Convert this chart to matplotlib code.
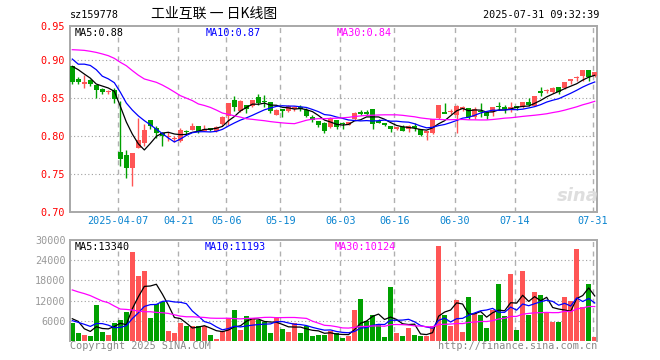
import numpy as np
import pandas as pd
import matplotlib
matplotlib.use("Agg")
import matplotlib.pyplot as plt

# ---------------------------------------------------------------------------
# daily candles, 2025-03-25 .. 2025-07-31 (88 trading days)
opens = [0.8917, 0.8750, 0.8680, 0.8732, 0.8670, 0.8614, 0.8580, 0.8605, 0.7794, 0.7750,
         0.7575, 0.7847, 0.7903, 0.8215, 0.8110, 0.8040, 0.7990, 0.7960, 0.7939, 0.8060,
         0.8083, 0.8136, 0.8070, 0.8092, 0.8060, 0.8158, 0.8268, 0.8474, 0.8325, 0.8408,
         0.8395, 0.8518, 0.8456, 0.8447, 0.8280, 0.8342, 0.8325, 0.8365, 0.8370, 0.8342,
         0.8254, 0.8202, 0.8175, 0.8114, 0.8211, 0.8167, 0.8150, 0.8220, 0.8309, 0.8309,
         0.8360, 0.8185, 0.8158, 0.8132, 0.8088, 0.8123, 0.8088, 0.8136, 0.8088, 0.8035,
         0.8035, 0.8237, 0.8305, 0.8310, 0.8272, 0.8355, 0.8368, 0.8246, 0.8322, 0.8311,
         0.8311, 0.8390, 0.8386, 0.8355, 0.8380, 0.8377, 0.8443, 0.8400, 0.8584, 0.8588,
         0.8575, 0.8640, 0.8627, 0.8724, 0.8770, 0.8794, 0.8873, 0.8785]
highs = [0.8920, 0.8770, 0.8800, 0.8750, 0.8670, 0.8627, 0.8610, 0.8636, 0.8465, 0.7820,
         0.7780, 0.8240, 0.8162, 0.8215, 0.8136, 0.8050, 0.8050, 0.8000, 0.8110, 0.8083,
         0.8166, 0.8136, 0.8146, 0.8110, 0.8136, 0.8260, 0.8439, 0.8530, 0.8474, 0.8410,
         0.8474, 0.8553, 0.8544, 0.8447, 0.8355, 0.8342, 0.8404, 0.8395, 0.8404, 0.8368,
         0.8280, 0.8202, 0.8180, 0.8245, 0.8211, 0.8180, 0.8184, 0.8320, 0.8342, 0.8342,
         0.8360, 0.8220, 0.8158, 0.8132, 0.8114, 0.8140, 0.8149, 0.8175, 0.8088, 0.8070,
         0.8220, 0.8404, 0.8430, 0.8351, 0.8404, 0.8390, 0.8368, 0.8377, 0.8430, 0.8311,
         0.8386, 0.8443, 0.8408, 0.8452, 0.8399, 0.8452, 0.8504, 0.8531, 0.8640, 0.8618,
         0.8640, 0.8640, 0.8715, 0.8750, 0.8794, 0.8868, 0.8873, 0.8838]
lows = [0.8680, 0.8690, 0.8627, 0.8660, 0.8496, 0.8550, 0.8550, 0.8434, 0.7600, 0.7446,
        0.7338, 0.7840, 0.7870, 0.8090, 0.7974, 0.7864, 0.7940, 0.7917, 0.7925, 0.8020,
        0.8075, 0.8040, 0.8060, 0.8070, 0.8048, 0.8136, 0.8150, 0.8333, 0.8311, 0.8298,
        0.8377, 0.8412, 0.8386, 0.8307, 0.8272, 0.8246, 0.8311, 0.8334, 0.8325, 0.8246,
        0.8184, 0.8114, 0.8044, 0.8105, 0.8097, 0.8088, 0.8140, 0.8210, 0.8272, 0.8272,
        0.8088, 0.8167, 0.8132, 0.8053, 0.8083, 0.8070, 0.8048, 0.8070, 0.8000, 0.7950,
        0.8026, 0.8224, 0.8300, 0.8294, 0.8044, 0.8334, 0.8224, 0.8224, 0.8246, 0.8224,
        0.8268, 0.8347, 0.8303, 0.8311, 0.8347, 0.8368, 0.8390, 0.8390, 0.8522, 0.8566,
        0.8566, 0.8553, 0.8618, 0.8680, 0.8724, 0.8728, 0.8724, 0.8770]
closes = [0.8706, 0.8715, 0.8706, 0.8680, 0.8610, 0.8575, 0.8587, 0.8487, 0.7697, 0.7575,
          0.7780, 0.7947, 0.8083, 0.8127, 0.8040, 0.7995, 0.8000, 0.7970, 0.8083, 0.8055,
          0.8136, 0.8066, 0.8096, 0.8090, 0.8123, 0.8254, 0.8439, 0.8377, 0.8456, 0.8351,
          0.8474, 0.8430, 0.8452, 0.8325, 0.8342, 0.8338, 0.8395, 0.8370, 0.8365, 0.8263,
          0.8210, 0.8140, 0.8070, 0.8237, 0.8114, 0.8158, 0.8180, 0.8307, 0.8305, 0.8305,
          0.8158, 0.8180, 0.8155, 0.8088, 0.8114, 0.8070, 0.8136, 0.8100, 0.8009, 0.8070,
          0.8220, 0.8404, 0.8303, 0.8334, 0.8395, 0.8377, 0.8254, 0.8355, 0.8320, 0.8268,
          0.8386, 0.8386, 0.8355, 0.8386, 0.8377, 0.8443, 0.8412, 0.8531, 0.8580, 0.8610,
          0.8627, 0.8584, 0.8715, 0.8741, 0.8772, 0.8868, 0.8772, 0.8838]
volumes = [5220, 2240, 1640, 1340, 10600, 2540, 1640, 5220, 6120, 8500,
           26400, 19350, 20750, 6720, 11100, 11700, 2940, 2240, 5220, 4330,
           4330, 4330, 4330, 1640, 450, 2940, 6720, 9100, 3130, 7310,
           6720, 6120, 5520, 2340, 7010, 3430, 2540, 5220, 2240, 4330,
           1340, 1640, 1640, 3000, 2390, 800, 1400, 9070, 12360, 5780,
           7770, 4880, 1000, 15950, 2190, 1400, 3690, 1590, 1300, 1300,
           4290, 28200, 7770, 4290, 12060, 2490, 12960, 8370, 7770, 3690,
           9070, 16840, 7380, 19830, 3090, 20730, 7770, 14450, 13560, 8370,
           5480, 5480, 12960, 11760, 27310, 9970, 16840, 1000]

# 29 sessions before the window, only needed to start the moving averages
prior_closes = [0.8835, 0.8856, 0.9040, 0.9060, 0.9175, 0.9277, 0.9537, 0.9257, 0.8925, 0.9710,
                0.9747, 0.9583, 0.8787, 0.8700, 0.9075, 0.9290, 0.9400, 0.9550, 0.9045, 0.9100,
                0.9390, 0.8700, 0.8850, 0.9173, 0.9424, 0.8940, 0.8990, 0.8950, 0.9000]
prior_volumes = [19940, 16640, 19340, 35380, 26540, 16640, 34920, 33120, 11500, 32400,
                 28350, 26750, 6720, 17100, 14700, 8940, 14240, 17220, 10330, 4330,
                 7330, 7330, 7640, 1860, 2940, 6240, 12590, 5350, 3500]

tick_idx = [8, 18, 26, 35, 45, 54, 64, 74, 87]
tick_labels = ["2025-04-07", "04-21", "05-06", "05-19", "06-03",
               "06-16", "06-30", "07-14", "07-31"]

price_ticks = [0.70, 0.75, 0.80, 0.85, 0.90]

# ---------------------------------------------------------------------------
W, H = 660, 360
RED, GREEN = "#ff5555", "#00a000"
MONO = "DejaVu Sans Mono"
FS = 7.3


def px(x, y):
    return x / W, 1 - y / H


def moving_avg(prior, values, n):
    s = pd.Series(list(prior) + list(values), dtype=float)
    return s.rolling(n).mean().iloc[len(prior):].to_numpy()


o = np.array(opens)
c = np.array(closes)
x = np.arange(len(c))
up = c >= o
colors = np.where(up, RED, GREEN)

fig = plt.figure(figsize=(W / 100, H / 100), dpi=100)
ax = fig.add_axes([70 / W, 1 - 212 / H, 527.3 / W, 186 / H])
axv = fig.add_axes([70 / W, 1 - 340.8 / H, 527.3 / W, 100.6 / H])

xlim = (-0.38, 87.43)
ytop = 0.70 + 186 / 760

for a in (ax, axv):
    a.set_xlim(*xlim)
    for s in a.spines.values():
        s.set_color("#a8a8a8")
        s.set_linewidth(1.4)
    a.tick_params(length=0, labelsize=FS)
    for t in tick_idx:
        a.axvline(t - 0.35, color="#b0b0b0", lw=1.0, ls=(0, (3.6, 3.2)), zorder=0)

# price panel
ax.set_ylim(0.70, ytop)
for v in price_ticks[1:]:
    ax.axhline(v, color="#a0a0a0", lw=0.8, ls=(0, (1, 2.2)), zorder=0)

body_h = np.maximum(np.abs(c - o), 0.0022)
body_b = np.where(np.abs(c - o) < 0.0022, (c + o) / 2 - 0.0011, np.minimum(o, c))
ax.vlines(x, lows, highs, colors=colors, lw=1.0, zorder=2)
ax.bar(x, body_h, bottom=body_b, width=0.78, color=colors, lw=0, zorder=3)

ax.plot(x, moving_avg(prior_closes, closes, 5), color="black", lw=0.9, zorder=4)
ax.plot(x, moving_avg(prior_closes, closes, 10), color="#0000ff", lw=0.9, zorder=4)
ax.plot(x, moving_avg(prior_closes, closes, 30), color="#ff00ff", lw=0.9, zorder=4)

ax.set_yticks(price_ticks + [ytop])
ax.set_yticklabels(["0.70", "0.75", "0.80", "0.85", "0.90", "0.95"],
                   color="red", family=MONO)
ax.set_xticks([t - 0.35 for t in tick_idx])
ax.set_xticklabels(tick_labels, color="#0a84d0", family=MONO)
ax.tick_params(axis="x", pad=3)
ax.tick_params(axis="y", pad=4)

# faint watermark, lower right of the price panel
fig.text(*px(578, 196), "sina", fontsize=13, style="italic", weight="bold",
         color="#dedede", ha="center", va="center", zorder=1)

# volume panel
axv.set_ylim(0, 30000)
for v in [6000, 12000, 18000, 24000]:
    axv.axhline(v, color="#a0a0a0", lw=0.8, ls=(0, (1, 2.2)), zorder=0)
axv.bar(x, volumes, width=0.78, color=colors, lw=0, zorder=2)
axv.plot(x, moving_avg(prior_volumes, volumes, 5), color="black", lw=0.9, zorder=3)
axv.plot(x, moving_avg(prior_volumes, volumes, 10), color="#0000ff", lw=0.9, zorder=3)
axv.plot(x, moving_avg(prior_volumes, volumes, 30), color="#ff00ff", lw=0.9, zorder=3)
axv.spines["bottom"].set_visible(False)
axv.set_xticks([])
axv.set_yticks([6000, 12000, 18000, 24000, 30000])
axv.set_yticklabels(["6000", "12000", "18000", "24000", "30000"],
                    color="#999999", family=MONO)
axv.tick_params(axis="y", pad=3)

# header and labels
fig.text(*px(70, 15), "sz159778", fontsize=FS, family=MONO, va="center")
fig.text(*px(214, 14), "工业互联 一 日K线图", fontsize=10, va="center", ha="center",
         family=["Noto Sans CJK SC", "DejaVu Sans"])
fig.text(*px(599, 15), "2025-07-31 09:32:39", fontsize=FS, family=MONO,
         va="center", ha="right")

fig.text(*px(75, 33), "MA5:0.88", fontsize=FS, family=MONO, va="center", color="black")
fig.text(*px(206, 33), "MA10:0.87", fontsize=FS, family=MONO, va="center", color="#0000ff")
fig.text(*px(337, 33), "MA30:0.84", fontsize=FS, family=MONO, va="center", color="#ff00ff")

fig.text(*px(75, 247), "MA5:13340", fontsize=FS, family=MONO, va="center", color="black")
fig.text(*px(205, 247), "MA10:11193", fontsize=FS, family=MONO, va="center", color="#0000ff")
fig.text(*px(335, 247), "MA30:10124", fontsize=FS, family=MONO, va="center", color="#ff00ff")

fig.text(*px(70, 346), "Copyright 2025 SINA.COM", fontsize=FS, family=MONO,
         va="center", color="#888888")
fig.text(*px(597, 346), "http://finance.sina.com.cn", fontsize=FS, family=MONO,
         va="center", ha="right", color="#888888")

fig.savefig("out.png", dpi=100, facecolor="white")
